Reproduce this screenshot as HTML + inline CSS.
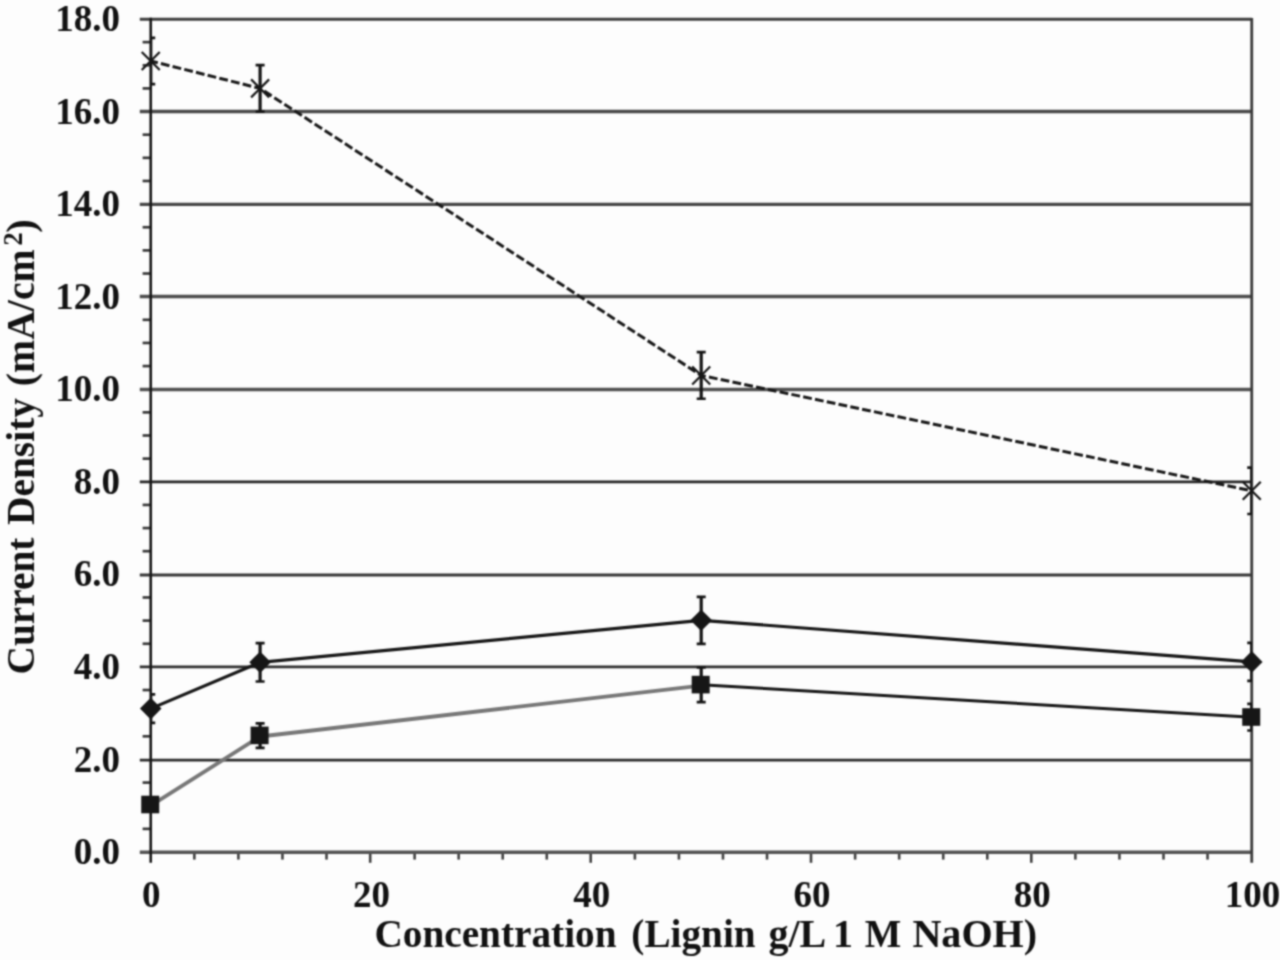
<!DOCTYPE html>
<html><head><meta charset="utf-8"><style>
html,body{margin:0;padding:0;background:#fdfdfd;width:1280px;height:960px;overflow:hidden}
svg{display:block}
text{font-family:"Liberation Serif",serif;font-weight:bold;fill:#111111}
.t{font-size:37px}
.al{font-size:40px}
.yl{font-size:40.5px}
.sup{font-size:27px}
</style></head><body>
<svg width="1280" height="960" viewBox="0 0 1280 960">
<defs><filter id="bl" filterUnits="userSpaceOnUse" x="0" y="0" width="1280" height="960" color-interpolation-filters="sRGB"><feConvolveMatrix order="5" kernelMatrix="0.00048 0.00501 0.01095 0.00501 0.00048 0.00501 0.05222 0.11405 0.05222 0.00501 0.01095 0.11405 0.24912 0.11405 0.01095 0.00501 0.05222 0.11405 0.05222 0.00501 0.00048 0.00501 0.01095 0.00501 0.00048" divisor="1" edgeMode="duplicate" preserveAlpha="true"/></filter><clipPath id="pa"><rect x="150.73" y="17.00" width="1101.01" height="837.00"/></clipPath></defs>
<g filter="url(#bl)">
<rect width="1280" height="960" fill="#fdfdfd"/>
<line x1="139.8" y1="760.07" x2="1251.90" y2="760.07" stroke="rgb(43,43,43)" stroke-width="2.62"/>
<line x1="139.8" y1="666.88" x2="1251.90" y2="666.88" stroke="rgb(47,47,47)" stroke-width="2.65"/>
<line x1="139.8" y1="574.91" x2="1251.90" y2="574.91" stroke="rgb(55,55,55)" stroke-width="2.93"/>
<line x1="139.8" y1="481.79" x2="1251.90" y2="481.79" stroke="rgb(39,39,39)" stroke-width="2.78"/>
<line x1="139.8" y1="389.61" x2="1251.90" y2="389.61" stroke="rgb(81,81,81)" stroke-width="3.49"/>
<line x1="139.8" y1="296.40" x2="1251.90" y2="296.40" stroke="rgb(77,77,77)" stroke-width="3.47"/>
<line x1="139.8" y1="204.44" x2="1251.90" y2="204.44" stroke="rgb(70,70,70)" stroke-width="3.3"/>
<line x1="139.8" y1="111.45" x2="1251.90" y2="111.45" stroke="rgb(74,74,74)" stroke-width="3.62"/>
<line x1="139.8" y1="19.15" x2="1251.90" y2="19.15" stroke="rgb(62,62,62)" stroke-width="2.96"/>
<line x1="142.6" y1="828.86" x2="150.60" y2="828.86" stroke="#3a3a3a" stroke-width="2.7"/>
<line x1="142.6" y1="805.72" x2="150.60" y2="805.72" stroke="#3a3a3a" stroke-width="2.7"/>
<line x1="142.6" y1="782.58" x2="150.60" y2="782.58" stroke="#3a3a3a" stroke-width="2.7"/>
<line x1="142.6" y1="736.31" x2="150.60" y2="736.31" stroke="#3a3a3a" stroke-width="2.7"/>
<line x1="142.6" y1="690.03" x2="150.60" y2="690.03" stroke="#3a3a3a" stroke-width="2.7"/>
<line x1="142.6" y1="643.75" x2="150.60" y2="643.75" stroke="#3a3a3a" stroke-width="2.7"/>
<line x1="142.6" y1="620.61" x2="150.60" y2="620.61" stroke="#3a3a3a" stroke-width="2.7"/>
<line x1="142.6" y1="597.47" x2="150.60" y2="597.47" stroke="#3a3a3a" stroke-width="2.7"/>
<line x1="142.6" y1="551.19" x2="150.60" y2="551.19" stroke="#3a3a3a" stroke-width="2.7"/>
<line x1="142.6" y1="528.06" x2="150.60" y2="528.06" stroke="#3a3a3a" stroke-width="2.7"/>
<line x1="142.6" y1="504.92" x2="150.60" y2="504.92" stroke="#3a3a3a" stroke-width="2.7"/>
<line x1="142.6" y1="458.64" x2="150.60" y2="458.64" stroke="#3a3a3a" stroke-width="2.7"/>
<line x1="142.6" y1="435.50" x2="150.60" y2="435.50" stroke="#3a3a3a" stroke-width="2.7"/>
<line x1="142.6" y1="412.36" x2="150.60" y2="412.36" stroke="#3a3a3a" stroke-width="2.7"/>
<line x1="142.6" y1="366.08" x2="150.60" y2="366.08" stroke="#3a3a3a" stroke-width="2.7"/>
<line x1="142.6" y1="342.94" x2="150.60" y2="342.94" stroke="#3a3a3a" stroke-width="2.7"/>
<line x1="142.6" y1="319.81" x2="150.60" y2="319.81" stroke="#3a3a3a" stroke-width="2.7"/>
<line x1="142.6" y1="273.53" x2="150.60" y2="273.53" stroke="#3a3a3a" stroke-width="2.7"/>
<line x1="142.6" y1="250.39" x2="150.60" y2="250.39" stroke="#3a3a3a" stroke-width="2.7"/>
<line x1="142.6" y1="227.25" x2="150.60" y2="227.25" stroke="#3a3a3a" stroke-width="2.7"/>
<line x1="142.6" y1="180.97" x2="150.60" y2="180.97" stroke="#3a3a3a" stroke-width="2.7"/>
<line x1="142.6" y1="157.83" x2="150.60" y2="157.83" stroke="#3a3a3a" stroke-width="2.7"/>
<line x1="142.6" y1="134.69" x2="150.60" y2="134.69" stroke="#3a3a3a" stroke-width="2.7"/>
<line x1="142.6" y1="88.42" x2="150.60" y2="88.42" stroke="#3a3a3a" stroke-width="2.7"/>
<line x1="142.6" y1="65.28" x2="150.60" y2="65.28" stroke="#3a3a3a" stroke-width="2.7"/>
<line x1="142.6" y1="42.14" x2="150.60" y2="42.14" stroke="#3a3a3a" stroke-width="2.7"/>
<line x1="194.35" y1="852.00" x2="194.35" y2="859.6" stroke="#404040" stroke-width="2.6"/>
<line x1="238.40" y1="852.00" x2="238.40" y2="859.6" stroke="#404040" stroke-width="2.6"/>
<line x1="282.46" y1="852.00" x2="282.46" y2="859.6" stroke="#404040" stroke-width="2.6"/>
<line x1="326.51" y1="852.00" x2="326.51" y2="859.6" stroke="#404040" stroke-width="2.6"/>
<line x1="414.61" y1="852.00" x2="414.61" y2="859.6" stroke="#404040" stroke-width="2.6"/>
<line x1="458.66" y1="852.00" x2="458.66" y2="859.6" stroke="#404040" stroke-width="2.6"/>
<line x1="502.72" y1="852.00" x2="502.72" y2="859.6" stroke="#404040" stroke-width="2.6"/>
<line x1="546.77" y1="852.00" x2="546.77" y2="859.6" stroke="#404040" stroke-width="2.6"/>
<line x1="634.87" y1="852.00" x2="634.87" y2="859.6" stroke="#404040" stroke-width="2.6"/>
<line x1="678.92" y1="852.00" x2="678.92" y2="859.6" stroke="#404040" stroke-width="2.6"/>
<line x1="722.98" y1="852.00" x2="722.98" y2="859.6" stroke="#404040" stroke-width="2.6"/>
<line x1="767.03" y1="852.00" x2="767.03" y2="859.6" stroke="#404040" stroke-width="2.6"/>
<line x1="855.13" y1="852.00" x2="855.13" y2="859.6" stroke="#404040" stroke-width="2.6"/>
<line x1="899.18" y1="852.00" x2="899.18" y2="859.6" stroke="#404040" stroke-width="2.6"/>
<line x1="943.24" y1="852.00" x2="943.24" y2="859.6" stroke="#404040" stroke-width="2.6"/>
<line x1="987.29" y1="852.00" x2="987.29" y2="859.6" stroke="#404040" stroke-width="2.6"/>
<line x1="1075.39" y1="852.00" x2="1075.39" y2="859.6" stroke="#404040" stroke-width="2.6"/>
<line x1="1119.44" y1="852.00" x2="1119.44" y2="859.6" stroke="#404040" stroke-width="2.6"/>
<line x1="1163.50" y1="852.00" x2="1163.50" y2="859.6" stroke="#404040" stroke-width="2.6"/>
<line x1="1207.55" y1="852.00" x2="1207.55" y2="859.6" stroke="#404040" stroke-width="2.6"/>
<line x1="370.20" y1="852.00" x2="370.20" y2="862.8" stroke="#404040" stroke-width="2.6"/>
<line x1="590.70" y1="852.00" x2="590.70" y2="862.8" stroke="#404040" stroke-width="2.6"/>
<line x1="811.00" y1="852.00" x2="811.00" y2="862.8" stroke="#404040" stroke-width="2.6"/>
<line x1="1031.30" y1="852.00" x2="1031.30" y2="862.8" stroke="#404040" stroke-width="2.6"/>
<line x1="139.8" y1="852.2" x2="1252.70" y2="852.2" stroke="rgb(83,83,83)" stroke-width="3.49"/>
<line x1="1251.74" y1="18.00" x2="1251.74" y2="862.8" stroke="#3b3b3b" stroke-width="2.8"/>
<line x1="150.73" y1="17.80" x2="150.73" y2="862.8" stroke="#161616" stroke-width="2.6"/>
<polyline points="150.73,804.70 260.10,735.60 701.20,684.80" transform="translate(0,0.9)" fill="none" stroke="#777777" stroke-width="3.8" stroke-linejoin="round"/>
<polyline points="701.20,684.80 1251.74,717.20" fill="none" stroke="#161616" stroke-width="3"/>
<polyline points="150.73,708.60 260.10,662.30 701.20,620.30 1251.74,661.90" fill="none" stroke="#161616" stroke-width="3.2" stroke-linejoin="round"/>
<line x1="150.73" y1="61.00" x2="260.10" y2="88.40" stroke="#161616" stroke-width="3.0" stroke-dasharray="8.8 3.24" stroke-dashoffset="1.54"/>
<line x1="260.10" y1="88.40" x2="701.20" y2="375.45" stroke="#161616" stroke-width="3.0" stroke-dasharray="8.8 3.24" stroke-dashoffset="-4.9"/>
<line x1="701.20" y1="375.45" x2="1251.74" y2="490.80" stroke="#161616" stroke-width="3.0" stroke-dasharray="8.8 3.24" stroke-dashoffset="4.15"/>
<g clip-path="url(#pa)"><line x1="260.10" y1="723.30" x2="260.10" y2="747.90" stroke="#141414" stroke-width="3.2"/><line x1="255.60" y1="723.30" x2="264.60" y2="723.30" stroke="#141414" stroke-width="2.7"/><line x1="255.60" y1="747.90" x2="264.60" y2="747.90" stroke="#141414" stroke-width="2.7"/></g>
<g clip-path="url(#pa)"><line x1="701.20" y1="667.45" x2="701.20" y2="702.15" stroke="#141414" stroke-width="3.2"/><line x1="696.70" y1="667.45" x2="705.70" y2="667.45" stroke="#141414" stroke-width="2.7"/><line x1="696.70" y1="702.15" x2="705.70" y2="702.15" stroke="#141414" stroke-width="2.7"/></g>
<g clip-path="url(#pa)"><line x1="1251.74" y1="703.90" x2="1251.74" y2="730.50" stroke="#141414" stroke-width="3.2"/><line x1="1247.24" y1="703.90" x2="1256.24" y2="703.90" stroke="#141414" stroke-width="2.7"/><line x1="1247.24" y1="730.50" x2="1256.24" y2="730.50" stroke="#141414" stroke-width="2.7"/></g>
<g clip-path="url(#pa)"><line x1="150.73" y1="694.40" x2="150.73" y2="722.80" stroke="#141414" stroke-width="3.2"/><line x1="146.23" y1="694.40" x2="155.23" y2="694.40" stroke="#141414" stroke-width="2.7"/><line x1="146.23" y1="722.80" x2="155.23" y2="722.80" stroke="#141414" stroke-width="2.7"/></g>
<g clip-path="url(#pa)"><line x1="260.10" y1="643.10" x2="260.10" y2="681.50" stroke="#141414" stroke-width="3.2"/><line x1="255.60" y1="643.10" x2="264.60" y2="643.10" stroke="#141414" stroke-width="2.7"/><line x1="255.60" y1="681.50" x2="264.60" y2="681.50" stroke="#141414" stroke-width="2.7"/></g>
<g clip-path="url(#pa)"><line x1="701.20" y1="596.80" x2="701.20" y2="643.80" stroke="#141414" stroke-width="3.2"/><line x1="696.70" y1="596.80" x2="705.70" y2="596.80" stroke="#141414" stroke-width="2.7"/><line x1="696.70" y1="643.80" x2="705.70" y2="643.80" stroke="#141414" stroke-width="2.7"/></g>
<g clip-path="url(#pa)"><line x1="1251.74" y1="642.85" x2="1251.74" y2="680.95" stroke="#141414" stroke-width="3.2"/><line x1="1247.24" y1="642.85" x2="1256.24" y2="642.85" stroke="#141414" stroke-width="2.7"/><line x1="1247.24" y1="680.95" x2="1256.24" y2="680.95" stroke="#141414" stroke-width="2.7"/></g>
<g clip-path="url(#pa)"><line x1="150.73" y1="37.80" x2="150.73" y2="84.20" stroke="#141414" stroke-width="3.2"/><line x1="146.23" y1="37.80" x2="155.23" y2="37.80" stroke="#141414" stroke-width="2.7"/><line x1="146.23" y1="84.20" x2="155.23" y2="84.20" stroke="#141414" stroke-width="2.7"/></g>
<g clip-path="url(#pa)"><line x1="260.10" y1="65.20" x2="260.10" y2="111.60" stroke="#141414" stroke-width="3.2"/><line x1="255.60" y1="65.20" x2="264.60" y2="65.20" stroke="#141414" stroke-width="2.7"/><line x1="255.60" y1="111.60" x2="264.60" y2="111.60" stroke="#141414" stroke-width="2.7"/></g>
<g clip-path="url(#pa)"><line x1="701.20" y1="352.15" x2="701.20" y2="398.75" stroke="#141414" stroke-width="3.2"/><line x1="696.70" y1="352.15" x2="705.70" y2="352.15" stroke="#141414" stroke-width="2.7"/><line x1="696.70" y1="398.75" x2="705.70" y2="398.75" stroke="#141414" stroke-width="2.7"/></g>
<g clip-path="url(#pa)"><line x1="1251.74" y1="467.60" x2="1251.74" y2="514.00" stroke="#141414" stroke-width="3.2"/><line x1="1247.24" y1="467.60" x2="1256.24" y2="467.60" stroke="#141414" stroke-width="2.7"/><line x1="1247.24" y1="514.00" x2="1256.24" y2="514.00" stroke="#141414" stroke-width="2.7"/></g>
<rect x="141.23" y="795.70" width="18.00" height="17.60" fill="#161616"/>
<rect x="250.60" y="726.60" width="18.00" height="17.60" fill="#161616"/>
<rect x="691.70" y="675.80" width="18.00" height="17.60" fill="#161616"/>
<rect x="1242.24" y="708.20" width="18.00" height="17.60" fill="#161616"/>
<polygon points="139.93,708.60 150.73,697.80 161.53,708.60 150.73,719.40" fill="#161616"/>
<polygon points="249.30,662.30 260.10,651.50 270.90,662.30 260.10,673.10" fill="#161616"/>
<polygon points="690.40,620.30 701.20,609.50 712.00,620.30 701.20,631.10" fill="#161616"/>
<polygon points="1240.94,661.90 1251.74,651.10 1262.54,661.90 1251.74,672.70" fill="#161616"/>
<path d="M141.73,52.00L159.73,70.00M141.73,70.00L159.73,52.00" stroke="#161616" stroke-width="2.2" fill="none"/>
<path d="M251.10,79.40L269.10,97.40M251.10,97.40L269.10,79.40" stroke="#161616" stroke-width="2.2" fill="none"/>
<path d="M692.20,366.45L710.20,384.45M692.20,384.45L710.20,366.45" stroke="#161616" stroke-width="2.2" fill="none"/>
<path d="M1242.74,481.80L1260.74,499.80M1242.74,499.80L1260.74,481.80" stroke="#161616" stroke-width="2.2" fill="none"/>
<text x="120.0" y="864.10" text-anchor="end" class="t">0.0</text>
<text x="120.0" y="771.54" text-anchor="end" class="t">2.0</text>
<text x="120.0" y="678.99" text-anchor="end" class="t">4.0</text>
<text x="120.0" y="586.43" text-anchor="end" class="t">6.0</text>
<text x="120.0" y="493.88" text-anchor="end" class="t">8.0</text>
<text x="120.0" y="401.32" text-anchor="end" class="t">10.0</text>
<text x="120.0" y="308.77" text-anchor="end" class="t">12.0</text>
<text x="120.0" y="216.21" text-anchor="end" class="t">14.0</text>
<text x="120.0" y="123.66" text-anchor="end" class="t">16.0</text>
<text x="120.0" y="31.10" text-anchor="end" class="t">18.0</text>
<text x="151.30" y="907.1" text-anchor="middle" class="t">0</text>
<text x="371.56" y="907.1" text-anchor="middle" class="t">20</text>
<text x="591.82" y="907.1" text-anchor="middle" class="t">40</text>
<text x="812.08" y="907.1" text-anchor="middle" class="t">60</text>
<text x="1032.34" y="907.1" text-anchor="middle" class="t">80</text>
<text x="1252.60" y="907.1" text-anchor="middle" class="t">100</text>
<text transform="translate(374.44,947) scale(0.9820,1)" class="al">Concentration</text>
<text transform="translate(631.34,947) scale(0.9806,1)" class="al">(Lignin</text>
<text transform="translate(768.50,947) scale(1.0000,1)" class="al">g/L</text>
<text transform="translate(832.95,947) scale(1.0000,1)" class="al">1</text>
<text transform="translate(864.73,947) scale(0.9667,1)" class="al">M</text>
<text transform="translate(912.40,947) scale(1.0025,1)" class="al">NaOH)</text>
<text transform="translate(34.4,674.54) rotate(-90) scale(0.9719,1)" class="yl">Current</text>
<text transform="translate(34.4,524.97) rotate(-90) scale(0.9729,1)" class="yl">Density</text>
<text transform="translate(34.4,386.16) rotate(-90) scale(0.9810,1)" class="yl">(mA/cm</text>
<text transform="translate(22.4,245.70) rotate(-90)" class="sup">2</text>
<text transform="translate(34.4,232.80) rotate(-90)" class="yl">)</text>
</g>
</svg>
</body></html>
